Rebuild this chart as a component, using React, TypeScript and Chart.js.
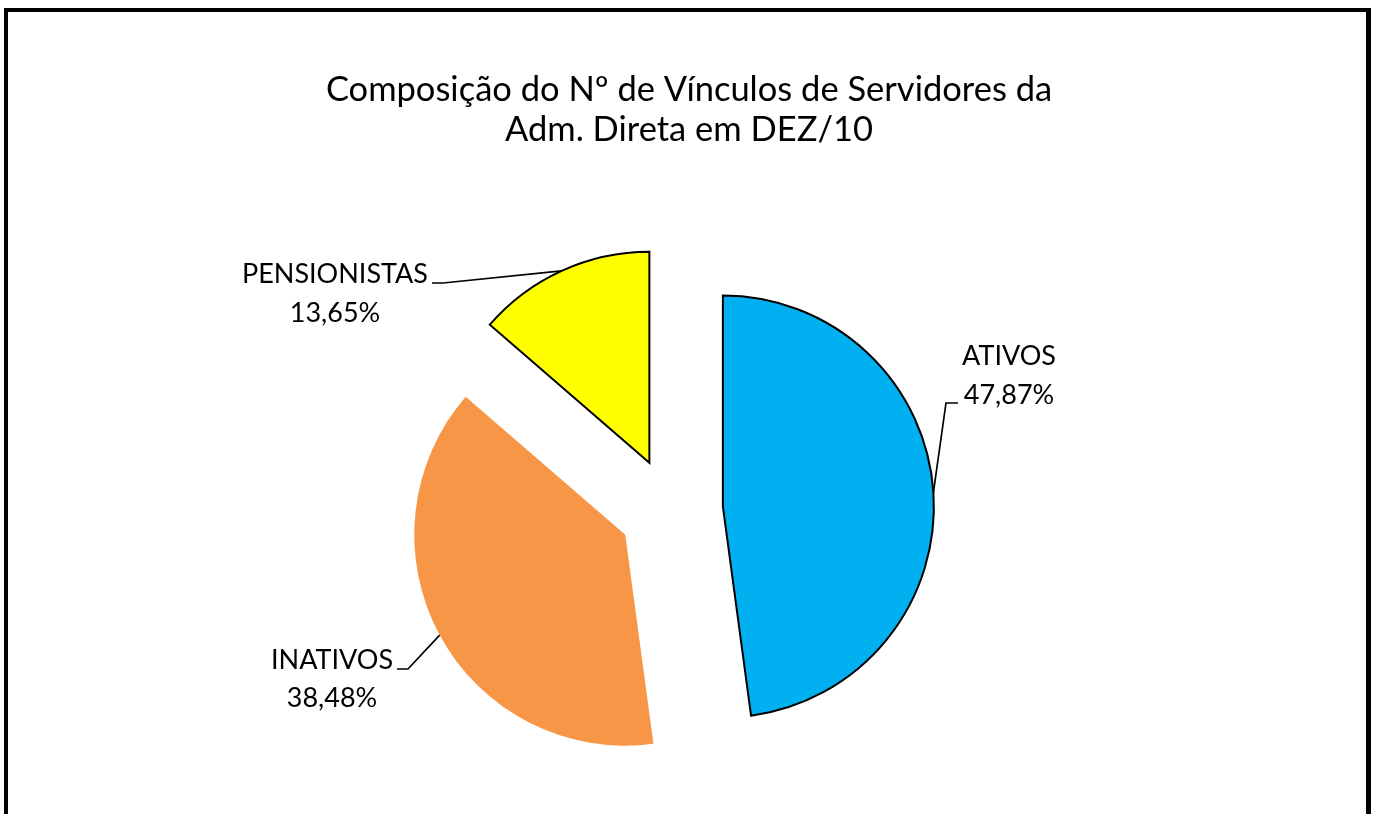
import React, { useEffect, useRef } from "react";
import { Chart, registerables } from "chart.js";

Chart.register(...registerables);

// ---- data ----
const categories = ["ATIVOS", "INATIVOS", "PENSIONISTAS"];
const shares = [47.87, 38.48, 13.65];
const titleLines = ["Composição do Nº de Vínculos de Servidores da", "Adm. Direta em DEZ/10"];

// ---- styling ----
const sliceColors = ["#00B0F0", "#F79646", "#FFFF00"];
const sliceBorders = [2, 0, 2];
const FONT = "Lato, 'Open Sans', sans-serif";

// label layout relative to pie centre: text centre x, line baselines, elbow, line end
const labelLayout = [
  { tx: 338, ty: [-145, -106], elbow: [275, -107], end: [287, -107] },
  { tx: -339, ty: [159, 197], elbow: [-263, 159], end: [-274, 159] },
  { tx: -336, ty: [-227, -188], elbow: [-228, -227], end: [-239, -227] },
];

const fmt = (v: number) => v.toFixed(2).replace(".", ",") + "%";

const explodePlugin = {
  id: "explodeDraw",
  beforeDatasetDraw(chart: any, args: any, opts: any) {
    const ctx = chart.ctx;
    const d = opts.distance || 0;
    args.meta.data.forEach((arc: any) => {
      const mid = (arc.startAngle + arc.endAngle) / 2;
      ctx.save();
      ctx.translate(Math.cos(mid) * d, Math.sin(mid) * d);
      arc.draw(ctx, chart.chartArea);
      ctx.restore();
    });
    return false;
  },
  afterDraw(chart: any, _args: any, opts: any) {
    const ctx = chart.ctx;
    const d = opts.distance || 0;
    // title
    ctx.save();
    ctx.fillStyle = "#000";
    ctx.textAlign = "center";
    ctx.textBaseline = "alphabetic";
    ctx.font = `34.5px ${FONT}`;
    titleLines.forEach((t, i) => ctx.fillText(t, chart.width / 2 + 2, 89 + i * 40));
    ctx.restore();

    const meta = chart.getDatasetMeta(0);
    meta.data.forEach((arc: any, i: number) => {
      const mid = (arc.startAngle + arc.endAngle) / 2;
      const cx = arc.x;
      const cy = arc.y;
      const ex = cx + Math.cos(mid) * d;
      const ey = cy + Math.sin(mid) * d;
      const ax = ex + Math.cos(mid) * arc.outerRadius;
      const ay = ey + Math.sin(mid) * arc.outerRadius;
      const L = labelLayout[i];
      ctx.save();
      ctx.strokeStyle = "#000";
      ctx.lineWidth = 1.7;
      ctx.beginPath();
      ctx.moveTo(ax, ay);
      ctx.lineTo(cx + L.elbow[0], cy + L.elbow[1]);
      ctx.lineTo(cx + L.end[0], cy + L.end[1]);
      ctx.stroke();
      ctx.fillStyle = "#000";
      ctx.textAlign = "center";
      ctx.textBaseline = "alphabetic";
      ctx.font = `27px ${FONT}`;
      ctx.fillText(categories[i], cx + L.tx, cy + L.ty[0]);
      ctx.fillText(fmt(shares[i]), cx + L.tx, cy + L.ty[1]);
      ctx.restore();
    });
  },
};

export default function App() {
  const ref = useRef<HTMLCanvasElement>(null);
  useEffect(() => {
    document.body.style.overflow = "hidden";
    const chart = new Chart(ref.current as HTMLCanvasElement, {
      type: "pie",
      data: {
        labels: categories,
        datasets: [
          {
            data: shares,
            backgroundColor: sliceColors,
            borderColor: "#000",
            borderWidth: sliceBorders,
            borderJoinStyle: "miter",
          } as any,
        ],
      },
      options: {
        responsive: false,
        animation: false,
        radius: 211,
        layout: { padding: { left: 0, right: 32, top: 194, bottom: 0 } },
        plugins: {
          legend: { display: false },
          tooltip: { enabled: false },
          title: { display: false },
          explodeDraw: { distance: 52 },
        } as any,
      } as any,
      plugins: [explodePlugin as any],
    });
    return () => chart.destroy();
  }, []);
  return (
    <div
      style={{
        position: "fixed",
        left: 4,
        top: 8,
        width: 1367,
        height: 806,
        boxSizing: "border-box",
        borderLeft: "4px solid #000",
        borderTop: "4px solid #000",
        borderRight: "5px solid #000",
        background: "#fff",
      }}
    >
      <canvas ref={ref} width={1358} height={802} style={{ display: "block" }} />
    </div>
  );
}
